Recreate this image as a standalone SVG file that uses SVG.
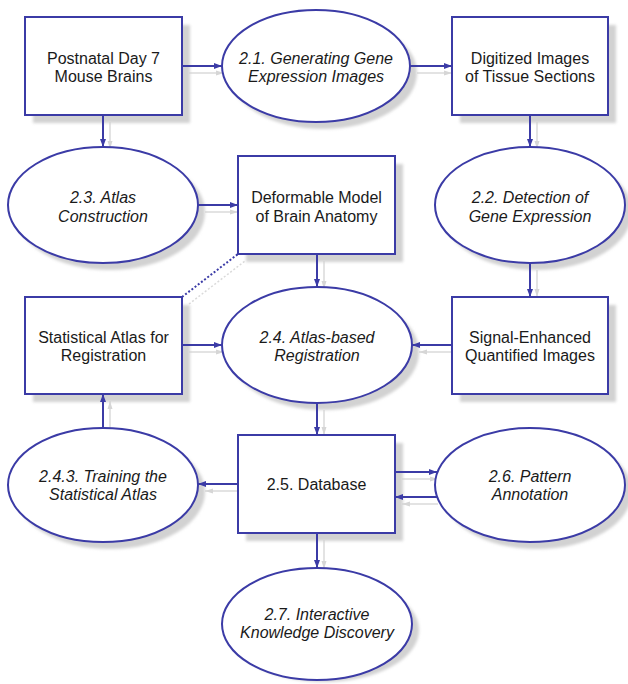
<svg xmlns="http://www.w3.org/2000/svg" width="628" height="684" viewBox="0 0 628 684">
<style>
.box{fill:#fff;stroke:#3b3ba6;stroke-width:2}
.sh{fill:#d2d2d2;filter:url(#blur)}
.t{font-family:"Liberation Sans",Arial,sans-serif;font-size:16px;fill:#1a1a1a;text-anchor:middle}
.i{font-style:italic}
.c{stroke:#3b3ba6;stroke-width:2;fill:none;marker-end:url(#ah)}
.cs{stroke:#dadada;stroke-width:1.5;fill:none;marker-end:url(#ahs)}
</style>
<defs>
<filter id="blur" x="-10%" y="-10%" width="120%" height="120%"><feGaussianBlur stdDeviation="1.5"/></filter>
<marker id="ah" markerUnits="userSpaceOnUse" markerWidth="8" markerHeight="8" viewBox="0 0 8 8" refX="8" refY="4" orient="auto"><path d="M0,1 L8,4 L0,7 Z" fill="#3b3ba6"/></marker>
<marker id="ahs" markerUnits="userSpaceOnUse" markerWidth="8" markerHeight="8" viewBox="0 0 8 8" refX="8" refY="4" orient="auto"><path d="M0,1.5 L8,4 L0,6.5 Z" fill="#d6d6d6"/></marker>
</defs>
<g id="connector-shadows">
<line class="cs" x1="189" y1="73" x2="224" y2="73"/>
<line class="cs" x1="417" y1="73" x2="452" y2="73"/>
<line class="cs" x1="110" y1="122" x2="110" y2="149"/>
<line class="cs" x1="537" y1="122" x2="537" y2="149"/>
<line class="cs" x1="205" y1="212" x2="238" y2="212"/>
<line class="cs" x1="324" y1="261" x2="324" y2="289"/>
<line class="cs" x1="537" y1="270" x2="537" y2="297"/>
<line class="cs" x1="452" y1="352" x2="419" y2="352"/>
<line class="cs" x1="189" y1="352" x2="224" y2="352"/>
<line class="cs" x1="324" y1="410" x2="324" y2="435"/>
<line class="cs" x1="110" y1="430" x2="110" y2="401"/>
<line class="cs" x1="238" y1="491" x2="205" y2="491"/>
<line class="cs" x1="402" y1="479" x2="438" y2="479"/>
<line class="cs" x1="438" y1="504" x2="402" y2="504"/>
<line class="cs" x1="324" y1="540" x2="324" y2="569"/>
<line x1="189" y1="304" x2="245" y2="261" stroke="#dadada" stroke-width="1.5" stroke-dasharray="2,2"/>
</g>
<g id="n1"><rect class="sh" x="33" y="25" width="157" height="98"/><rect class="box" x="25" y="17" width="157" height="98"/><text class="t" x="103.5" y="64">Postnatal Day 7</text><text class="t" x="103.5" y="82">Mouse Brains</text></g>
<g id="e21"><ellipse class="sh" cx="323" cy="73" rx="94" ry="56"/><ellipse class="box" cx="316" cy="66" rx="94" ry="56"/><text class="t i" x="316" y="64">2.1. Generating Gene</text><text class="t i" x="316" y="82">Expression Images</text></g>
<g id="n3"><rect class="sh" x="460" y="25" width="156" height="98"/><rect class="box" x="452" y="17" width="156" height="98"/><text class="t" x="530" y="64">Digitized Images</text><text class="t" x="530" y="82">of Tissue Sections</text></g>
<g id="e23"><ellipse class="sh" cx="110" cy="212" rx="95" ry="58"/><ellipse class="box" cx="103" cy="205" rx="95" ry="58"/><text class="t i" x="103" y="203">2.3. Atlas</text><text class="t i" x="103" y="222">Construction</text></g>
<g id="n5"><rect class="sh" x="246" y="164" width="157" height="98"/><rect class="box" x="238" y="156" width="157" height="98"/><text class="t" x="316.5" y="203">Deformable Model</text><text class="t" x="316.5" y="222">of Brain Anatomy</text></g>
<g id="e22"><ellipse class="sh" cx="537" cy="212" rx="95" ry="58"/><ellipse class="box" cx="530" cy="205" rx="95" ry="58"/><text class="t i" x="530" y="203">2.2. Detection of</text><text class="t i" x="530" y="222">Gene Expression</text></g>
<g id="n7"><rect class="sh" x="33" y="305" width="157" height="97"/><rect class="box" x="25" y="297" width="157" height="97"/><text class="t" x="103.5" y="343">Statistical Atlas for</text><text class="t" x="103.5" y="361">Registration</text></g>
<g id="e24"><ellipse class="sh" cx="324" cy="352" rx="95" ry="58"/><ellipse class="box" cx="317" cy="345" rx="95" ry="58"/><text class="t i" x="317" y="343">2.4. Atlas-based</text><text class="t i" x="317" y="361">Registration</text></g>
<g id="n9"><rect class="sh" x="460" y="305" width="156" height="97"/><rect class="box" x="452" y="297" width="156" height="97"/><text class="t" x="530" y="343">Signal-Enhanced</text><text class="t" x="530" y="361">Quantified Images</text></g>
<g id="n10"><rect class="sh" x="246" y="443" width="157" height="98"/><rect class="box" x="238" y="435" width="157" height="98"/><text class="t" x="316.5" y="490">2.5. Database</text></g>
<g id="e243"><ellipse class="sh" cx="110" cy="492" rx="95" ry="57"/><ellipse class="box" cx="103" cy="485" rx="95" ry="57"/><text class="t i" x="103" y="482">2.4.3. Training the</text><text class="t i" x="103" y="500">Statistical Atlas</text></g>
<g id="e26"><ellipse class="sh" cx="537" cy="492" rx="95" ry="57"/><ellipse class="box" cx="530" cy="485" rx="95" ry="57"/><text class="t i" x="530" y="482">2.6. Pattern</text><text class="t i" x="530" y="500">Annotation</text></g>
<g id="e27"><ellipse class="sh" cx="324" cy="630" rx="95" ry="52"/><ellipse class="box" cx="317" cy="624" rx="95" ry="56"/><text class="t i" x="317" y="620">2.7. Interactive</text><text class="t i" x="317" y="638">Knowledge Discovery</text></g>
<g id="connectors">
<line class="c" x1="182" y1="66" x2="222" y2="66"/>
<line class="c" x1="410" y1="66" x2="452" y2="66"/>
<line class="c" x1="103" y1="115" x2="103" y2="147"/>
<line class="c" x1="530" y1="115" x2="530" y2="147"/>
<line class="c" x1="198" y1="205" x2="238" y2="205"/>
<line class="c" x1="317" y1="254" x2="317" y2="287"/>
<line class="c" x1="530" y1="263" x2="530" y2="297"/>
<line class="c" x1="452" y1="345" x2="412" y2="345"/>
<line class="c" x1="182" y1="345" x2="222" y2="345"/>
<line class="c" x1="317" y1="403" x2="317" y2="435"/>
<line class="c" x1="103" y1="428" x2="103" y2="394"/>
<line class="c" x1="238" y1="484" x2="198" y2="484"/>
<line class="c" x1="395" y1="472" x2="437" y2="472"/>
<line class="c" x1="437" y1="497" x2="395" y2="497"/>
<line class="c" x1="317" y1="533" x2="317" y2="568"/>
<line x1="182" y1="297" x2="238" y2="254" stroke="#3b3ba6" stroke-width="2" stroke-dasharray="2,2"/>
</g>
</svg>
